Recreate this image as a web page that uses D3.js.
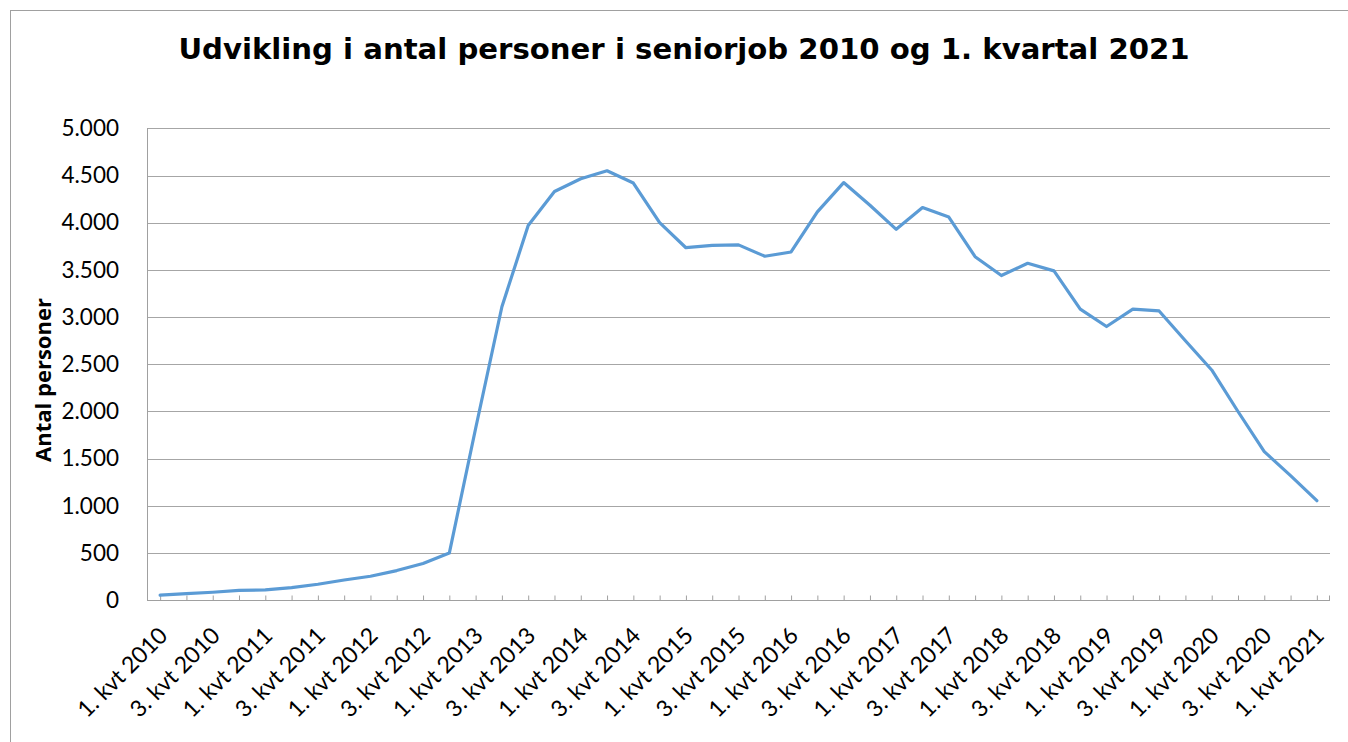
<!DOCTYPE html>
<html>
<head>
<meta charset="utf-8">
<script src="https://cdn.jsdelivr.net/npm/d3@7"></script>
<style>
  html, body { margin: 0; padding: 0; background: #fff; }
  svg { display: block; }
</style>
</head>
<body>
<svg id="chart" width="1348" height="742"></svg>
<script>
// ---- Data ----
const years = [2010, 2011, 2012, 2013, 2014, 2015, 2016, 2017, 2018, 2019, 2020, 2021];
const quarters = [];
years.forEach(y => [1, 2, 3, 4].forEach(q => { if (y < 2021 || q === 1) quarters.push(q + ". kvt " + y); }));
const values = [55, 70, 85, 105, 110, 135, 170, 215, 255, 315, 390, 500,
                1820, 3110, 3970, 4330, 4465, 4550, 4420, 4000, 3735, 3760,
                3765, 3645, 3690, 4115, 4425, 4185, 3930, 4160, 4060, 3640,
                3440, 3570, 3490, 3085, 2900, 3085, 3065, 2750, 2440, 2000,
                1575, 1320, 1055];
const yTicks = [0, 500, 1000, 1500, 2000, 2500, 3000, 3500, 4000, 4500, 5000];
const xTickLabels = quarters.filter(q => q.startsWith("1.") || q.startsWith("3."));
const titleText = "Udvikling i antal personer i seniorjob 2010 og 1. kvartal 2021";
const yTitle = "Antal personer";

// ---- Layout ----
const plot = { left: 147, right: 1330, top: 128.3, bottom: 600.3 };
const svg = d3.select("#chart");
const locale = d3.formatLocale({ decimal: ",", thousands: ".", grouping: [3], currency: ["", " kr"] });
const fmt = locale.format(",d");

const x = d3.scalePoint().domain(quarters).range([plot.left, plot.right]).padding(0.5);
const y = d3.scaleLinear().domain([0, 5000]).range([plot.bottom, plot.top]);

// outer border
svg.append("rect").attr("x", 10.5).attr("y", 10.5).attr("width", 1400).attr("height", 800)
  .attr("fill", "none").attr("stroke", "#a0a0a0").attr("stroke-width", 1);

// title
const title = svg.append("text").attr("x", 684).attr("y", 59).attr("text-anchor", "middle")
  .attr("font-family", "DejaVu Sans").attr("font-weight", "bold").attr("font-size", 28)
  .attr("fill", "#000").text(titleText);
const tl = title.node().getComputedTextLength();
title.attr("font-size", 28 * 1012 / tl);

// gridlines
svg.append("g").selectAll("line").data(yTicks.filter(d => d > 0)).join("line")
  .attr("x1", plot.left).attr("x2", plot.right)
  .attr("y1", d => Math.round(y(d)) + 0.5).attr("y2", d => Math.round(y(d)) + 0.5)
  .attr("stroke", "#a6a6a6").attr("stroke-width", 1);

// y axis
const yAxis = d3.axisLeft(y).tickValues(yTicks).tickSize(0).tickPadding(28).tickFormat(d => fmt(d));
const gy = svg.append("g").attr("transform", `translate(${plot.left},0)`).call(yAxis);
gy.select(".domain").attr("stroke", "#a0a0a0").attr("d", `M0.5,${plot.top}V${plot.bottom}`);
gy.selectAll("text").attr("font-family", "Lato").attr("font-size", 22.5).attr("fill", "#000");

// x axis
const xAxis = d3.axisBottom(x).tickSize(-5).tickFormat("");
const gx = svg.append("g").attr("transform", `translate(0,${Math.round(plot.bottom) + 0.5})`).call(xAxis);
gx.select(".domain").attr("stroke", "#a0a0a0").attr("d", `M${plot.left},0H${plot.right}`);
gx.selectAll(".tick line").attr("stroke", "#a0a0a0");
gx.append("line").attr("x1", plot.right - 0.5).attr("x2", plot.right - 0.5).attr("y1", 0).attr("y2", -5).attr("stroke", "#a0a0a0");

// x labels
svg.append("g").selectAll("text").data(xTickLabels).join("text")
  .attr("transform", d => `translate(${x(d) + 3},${plot.bottom + 31}) rotate(-45)`)
  .attr("text-anchor", "end").attr("dy", "0.35em")
  .attr("font-family", "Lato").attr("font-size", 23).attr("fill", "#000")
  .text(d => d);

// y title
const yt = svg.append("text").attr("transform", `translate(51,380) rotate(-90)`).attr("text-anchor", "middle")
  .attr("font-family", "Open Sans").attr("font-weight", "bold").attr("font-size", 22).attr("fill", "#000")
  .text(yTitle);
const ytl = yt.node().getComputedTextLength();
yt.attr("font-size", 22 * 164 / ytl);

// line
const line = d3.line().x((d, i) => x(quarters[i])).y(d => y(d));
svg.append("path").datum(values).attr("d", line).attr("fill", "none")
  .attr("stroke", "#5b9bd5").attr("stroke-width", 3.2).attr("stroke-linejoin", "round").attr("stroke-linecap", "round");
</script>
</body>
</html>
